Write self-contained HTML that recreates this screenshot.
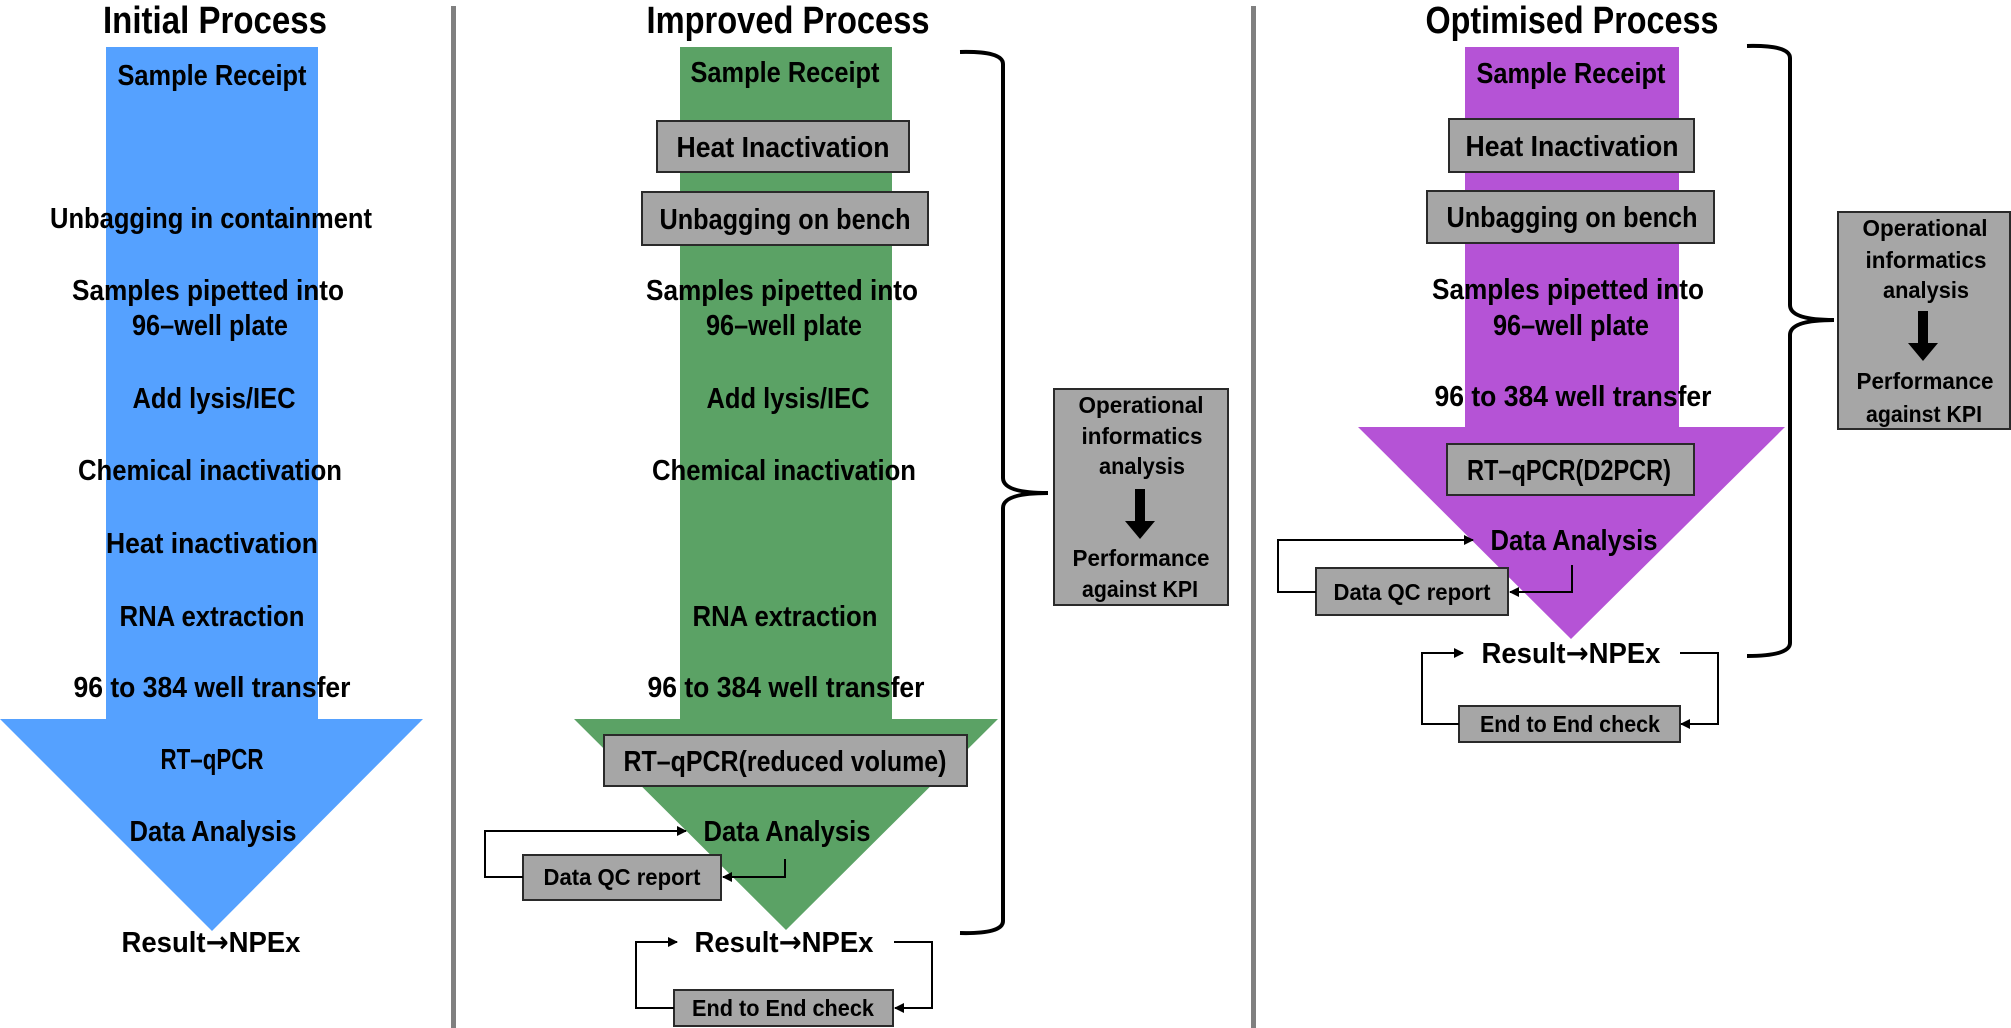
<!DOCTYPE html>
<html><head><meta charset="utf-8"><style>
html,body{margin:0;padding:0;background:#fff}
svg{display:block}
text{font-family:"Liberation Sans",sans-serif;font-weight:bold;fill:#000;text-anchor:middle}
.m{font-size:29px}
.t{font-size:38px}
.s{font-size:23px}
.o{font-size:23px}
.ar{font-family:"DejaVu Sans",sans-serif}
.bx{fill:#a6a6a6;stroke:#2a2a2a;stroke-width:2}
.ln{fill:none;stroke:#000;stroke-width:2}
.br{fill:none;stroke:#000;stroke-width:4}
</style></head><body>
<svg width="2011" height="1028" viewBox="0 0 2011 1028" xmlns="http://www.w3.org/2000/svg">
<defs><marker id="a" markerWidth="10" markerHeight="10" refX="9" refY="5" orient="auto" markerUnits="userSpaceOnUse"><path d="M0,0 L10,5 L0,10 z" fill="#000"/></marker></defs>
<rect x="451" y="6" width="5" height="1022" fill="#808080"/>
<rect x="1251" y="6" width="5" height="1022" fill="#808080"/>

<!-- INITIAL -->
<polygon points="106,47 318,47 318,719 423,719 212,931 0,719 106,719" fill="#55a1ff"/>
<text class="t" x="215" y="33" textLength="224" lengthAdjust="spacingAndGlyphs">Initial Process</text>
<text class="m" x="212" y="85" textLength="189" lengthAdjust="spacingAndGlyphs">Sample Receipt</text>
<text class="m" x="211" y="228" textLength="322" lengthAdjust="spacingAndGlyphs">Unbagging in containment</text>
<text class="m" x="208" y="300" textLength="272" lengthAdjust="spacingAndGlyphs">Samples pipetted into</text>
<text class="m" x="210" y="335" textLength="156" lengthAdjust="spacingAndGlyphs">96–well plate</text>
<text class="m" x="214" y="408" textLength="163" lengthAdjust="spacingAndGlyphs">Add lysis/IEC</text>
<text class="m" x="210" y="480" textLength="264" lengthAdjust="spacingAndGlyphs">Chemical inactivation</text>
<text class="m" x="212" y="553" textLength="212" lengthAdjust="spacingAndGlyphs">Heat inactivation</text>
<text class="m" x="212" y="626" textLength="185" lengthAdjust="spacingAndGlyphs">RNA extraction</text>
<text class="m" x="212" y="697" textLength="277" lengthAdjust="spacingAndGlyphs">96 to 384 well transfer</text>
<text class="m" x="212" y="769" textLength="103" lengthAdjust="spacingAndGlyphs">RT–qPCR</text>
<text class="m" x="213" y="841" textLength="167" lengthAdjust="spacingAndGlyphs">Data Analysis</text>
<text class="m" x="211" y="952" textLength="179" lengthAdjust="spacingAndGlyphs">Result<tspan class="ar">→</tspan>NPEx</text>

<!-- IMPROVED -->
<polygon points="680,47 892,47 892,719 998,719 786,930 574,719 680,719" fill="#5ba265"/>
<text class="t" x="788" y="33" textLength="283" lengthAdjust="spacingAndGlyphs">Improved Process</text>
<text class="m" x="785" y="82" textLength="189" lengthAdjust="spacingAndGlyphs">Sample Receipt</text>
<rect class="bx" x="657" y="121" width="252" height="51"/>
<text class="m" x="783" y="157" textLength="213" lengthAdjust="spacingAndGlyphs">Heat Inactivation</text>
<rect class="bx" x="642" y="192" width="286" height="53"/>
<text class="m" x="785" y="229" textLength="251" lengthAdjust="spacingAndGlyphs">Unbagging on bench</text>
<text class="m" x="782" y="300" textLength="272" lengthAdjust="spacingAndGlyphs">Samples pipetted into</text>
<text class="m" x="784" y="335" textLength="156" lengthAdjust="spacingAndGlyphs">96–well plate</text>
<text class="m" x="788" y="408" textLength="163" lengthAdjust="spacingAndGlyphs">Add lysis/IEC</text>
<text class="m" x="784" y="480" textLength="264" lengthAdjust="spacingAndGlyphs">Chemical inactivation</text>
<text class="m" x="785" y="626" textLength="185" lengthAdjust="spacingAndGlyphs">RNA extraction</text>
<text class="m" x="786" y="697" textLength="277" lengthAdjust="spacingAndGlyphs">96 to 384 well transfer</text>
<rect class="bx" x="604" y="735" width="363" height="51"/>
<text class="m" x="785" y="771" textLength="323" lengthAdjust="spacingAndGlyphs">RT–qPCR(reduced volume)</text>
<text class="m" x="787" y="841" textLength="167" lengthAdjust="spacingAndGlyphs">Data Analysis</text>
<rect class="bx" x="523" y="855" width="198" height="45"/>
<text class="s" x="622" y="885" textLength="157" lengthAdjust="spacingAndGlyphs">Data QC report</text>
<polyline class="ln" points="523,877 485,877 485,831 686,831" marker-end="url(#a)"/>
<polyline class="ln" points="785,859 785,877 723,877" marker-end="url(#a)"/>
<text class="m" x="784" y="952" textLength="179" lengthAdjust="spacingAndGlyphs">Result<tspan class="ar">→</tspan>NPEx</text>
<rect class="bx" x="674" y="990" width="219" height="36"/>
<text class="s" x="783" y="1016" textLength="182" lengthAdjust="spacingAndGlyphs">End to End check</text>
<polyline class="ln" points="674,1008 636,1008 636,942 677,942" marker-end="url(#a)"/>
<polyline class="ln" points="894,942 932,942 932,1008 895,1008" marker-end="url(#a)"/>
<path class="br" d="M960,52 Q1003,51 1003,64 L1003,478 Q1003,493 1048,493 Q1003,493 1003,508 L1003,921 Q1003,934 960,933"/>
<rect class="bx" x="1054" y="389" width="174" height="216"/>
<text class="o" x="1141" y="413" textLength="125" lengthAdjust="spacingAndGlyphs">Operational</text>
<text class="o" x="1142" y="444" textLength="121" lengthAdjust="spacingAndGlyphs">informatics</text>
<text class="o" x="1142" y="474" textLength="86" lengthAdjust="spacingAndGlyphs">analysis</text>
<polygon points="1135,489 1145,489 1145,521 1155,521 1140,539 1125,521 1135,521" fill="#000"/>
<text class="o" x="1141" y="566" textLength="137" lengthAdjust="spacingAndGlyphs">Performance</text>
<text class="o" x="1140" y="597" textLength="116" lengthAdjust="spacingAndGlyphs">against KPI</text>

<!-- OPTIMISED -->
<polygon points="1465,47 1679,47 1679,427 1785,427 1571,639 1358,427 1465,427" fill="#b553d6"/>
<text class="t" x="1572" y="33" textLength="293" lengthAdjust="spacingAndGlyphs">Optimised Process</text>
<text class="m" x="1571" y="83" textLength="189" lengthAdjust="spacingAndGlyphs">Sample Receipt</text>
<rect class="bx" x="1449" y="119" width="245" height="53"/>
<text class="m" x="1572" y="156" textLength="213" lengthAdjust="spacingAndGlyphs">Heat Inactivation</text>
<rect class="bx" x="1427" y="191" width="287" height="52"/>
<text class="m" x="1572" y="227" textLength="251" lengthAdjust="spacingAndGlyphs">Unbagging on bench</text>
<text class="m" x="1568" y="299" textLength="272" lengthAdjust="spacingAndGlyphs">Samples pipetted into</text>
<text class="m" x="1571" y="335" textLength="156" lengthAdjust="spacingAndGlyphs">96–well plate</text>
<text class="m" x="1573" y="406" textLength="277" lengthAdjust="spacingAndGlyphs">96 to 384 well transfer</text>
<rect class="bx" x="1447" y="444" width="247" height="51"/>
<text class="m" x="1569" y="480" textLength="204" lengthAdjust="spacingAndGlyphs">RT–qPCR(D2PCR)</text>
<text class="m" x="1574" y="550" textLength="167" lengthAdjust="spacingAndGlyphs">Data Analysis</text>
<rect class="bx" x="1316" y="568" width="192" height="47"/>
<text class="s" x="1412" y="600" textLength="157" lengthAdjust="spacingAndGlyphs">Data QC report</text>
<polyline class="ln" points="1316,592 1278,592 1278,540 1473,540" marker-end="url(#a)"/>
<polyline class="ln" points="1572,565 1572,592 1510,592" marker-end="url(#a)"/>
<text class="m" x="1571" y="663" textLength="179" lengthAdjust="spacingAndGlyphs">Result<tspan class="ar">→</tspan>NPEx</text>
<rect class="bx" x="1459" y="706" width="221" height="36"/>
<text class="s" x="1570" y="732" textLength="180" lengthAdjust="spacingAndGlyphs">End to End check</text>
<polyline class="ln" points="1459,724 1422,724 1422,653 1463,653" marker-end="url(#a)"/>
<polyline class="ln" points="1680,653 1718,653 1718,724 1681,724" marker-end="url(#a)"/>
<path class="br" d="M1747,46 Q1790,45 1790,58 L1790,305 Q1790,320 1834,320 Q1790,320 1790,335 L1790,643 Q1790,656 1747,656"/>
<rect class="bx" x="1838" y="212" width="172" height="217"/>
<text class="o" x="1925" y="236" textLength="125" lengthAdjust="spacingAndGlyphs">Operational</text>
<text class="o" x="1926" y="268" textLength="121" lengthAdjust="spacingAndGlyphs">informatics</text>
<text class="o" x="1926" y="298" textLength="86" lengthAdjust="spacingAndGlyphs">analysis</text>
<polygon points="1918,311 1928,311 1928,343 1938,343 1923,361 1908,343 1918,343" fill="#000"/>
<text class="o" x="1925" y="389" textLength="137" lengthAdjust="spacingAndGlyphs">Performance</text>
<text class="o" x="1924" y="422" textLength="116" lengthAdjust="spacingAndGlyphs">against KPI</text>
</svg>
</body></html>
